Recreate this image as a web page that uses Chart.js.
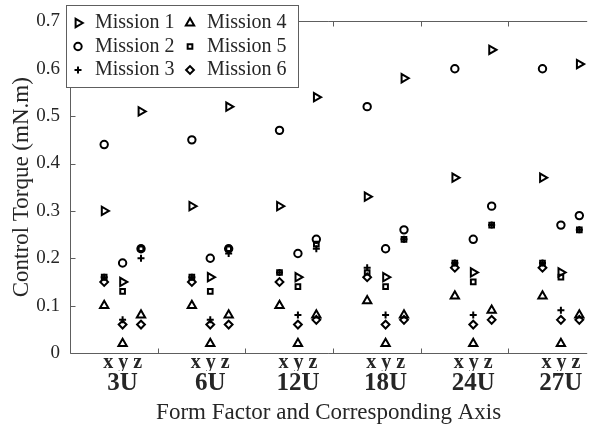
<!DOCTYPE html>
<html>
<head>
<meta charset="utf-8">
<script src="https://cdn.jsdelivr.net/npm/chart.js@4/dist/chart.umd.min.js"></script>
<style>
  html, body { margin: 0; padding: 0; background: #fff; }
  #wrap { width: 594px; height: 428px; }
</style>
</head>
<body>
<div id="wrap"><canvas id="chart" width="594" height="428"></canvas></div>
<script>
// form factors, each measured on x / y / z
const formFactors = ['3U', '6U', '12U', '18U', '24U', '27U'];
const axisNames = ['x', 'y', 'z'];
const yTicks = [0, 0.1, 0.2, 0.3, 0.4, 0.5, 0.6, 0.7];
const yTickLabels = ['0', '0.1', '0.2', '0.3', '0.4', '0.5', '0.6', '0.7'];

// control torque (mN.m), order: 3U x,y,z, 6U x,y,z, ...
const mission1 = [0.30, 0.15, 0.51, 0.31, 0.16, 0.52, 0.31, 0.16, 0.54, 0.33, 0.16, 0.58, 0.37, 0.17, 0.64, 0.37, 0.17, 0.61];
const mission2 = [0.44, 0.19, 0.22, 0.45, 0.20, 0.22, 0.47, 0.21, 0.24, 0.52, 0.22, 0.26, 0.60, 0.24, 0.31, 0.60, 0.27, 0.29];
const mission3 = [0.16, 0.07, 0.20, 0.16, 0.07, 0.21, 0.17, 0.08, 0.22, 0.18, 0.08, 0.24, 0.19, 0.08, 0.27, 0.19, 0.09, 0.26];
const mission4 = [0.10, 0.02, 0.08, 0.10, 0.02, 0.08, 0.10, 0.02, 0.08, 0.11, 0.02, 0.08, 0.12, 0.02, 0.09, 0.12, 0.02, 0.08];
const mission5 = [0.16, 0.13, 0.22, 0.16, 0.13, 0.22, 0.17, 0.14, 0.23, 0.17, 0.14, 0.24, 0.19, 0.15, 0.27, 0.19, 0.16, 0.26];
const mission6 = [0.15, 0.06, 0.06, 0.15, 0.06, 0.06, 0.15, 0.06, 0.07, 0.16, 0.06, 0.07, 0.18, 0.06, 0.07, 0.18, 0.07, 0.07];

const FONT = "'Liberation Serif', 'Times New Roman', serif";
const TEXT = '#262626';
const AXIS_COLOR = '#5e5e5e';
// where x / y / z sit inside one form-factor slot
const axisOffsets = [0.39, 0.60, 0.81];

function toPoints(values) {
  return values.map((v, j) => ({ x: Math.floor(j / 3) + axisOffsets[j % 3], y: v }));
}

function series(label, values, style, radius, rotation) {
  return {
    label,
    data: toPoints(values),
    pointStyle: style,
    pointRotation: rotation || 0,
    pointRadius: radius,
    pointHoverRadius: radius,
    pointBorderWidth: 2,
    pointBorderColor: '#000',
    pointBackgroundColor: 'rgba(0,0,0,0)',
    showLine: false
  };
}

// MATLAB-like box: left, bottom and top lines with inward ticks
const axesBox = {
  id: 'axesBox',
  beforeDatasetsDraw(chart) {
    const { ctx, chartArea: a, scales } = chart;
    const xs = scales.x, ys = scales.y;
    const L = Math.round(a.left) + 0.5, B = Math.round(a.bottom) + 0.5, T = Math.round(a.top) + 0.5;
    ctx.save();
    ctx.strokeStyle = AXIS_COLOR;
    ctx.lineWidth = 1;
    ctx.beginPath();
    ctx.moveTo(L, T); ctx.lineTo(L, B); ctx.lineTo(a.right, B);
    ctx.moveTo(L, T); ctx.lineTo(a.right, T);
    ys.ticks.forEach(t => {
      const p = Math.round(ys.getPixelForValue(t.value)) + 0.5;
      ctx.moveTo(L, p); ctx.lineTo(L + 5, p);
    });
    for (let i = 1; i < formFactors.length; i++) {
      const p = Math.round(xs.getPixelForValue(i)) + 0.5;
      ctx.moveTo(p, B); ctx.lineTo(p, B - 5);
      ctx.moveTo(p, T); ctx.lineTo(p, T + 5);
    }
    ctx.stroke();
    ctx.restore();
  }
};

// two-column legend box in the top-left corner
const boxLegend = {
  id: 'boxLegend',
  afterDraw(chart) {
    const ctx = chart.ctx;
    ctx.save();
    ctx.fillStyle = '#fff';
    ctx.fillRect(66.5, 5.5, 232, 82);
    ctx.strokeStyle = AXIS_COLOR;
    ctx.lineWidth = 1;
    ctx.strokeRect(66.5, 5.5, 232, 82);
    chart.data.datasets.forEach((ds, i) => {
      const col = Math.floor(i / 3), row = i % 3;
      const mx = 78 + col * 112, my = 23 + row * 23.5;
      ctx.strokeStyle = '#000';
      ctx.fillStyle = 'rgba(0,0,0,0)';
      ctx.lineWidth = ds.pointBorderWidth;
      Chart.helpers.drawPoint(ctx, {
        pointStyle: ds.pointStyle,
        rotation: ds.pointRotation,
        radius: ds.pointRadius,
        borderWidth: ds.pointBorderWidth
      }, mx, my);
      ctx.fillStyle = TEXT;
      ctx.font = '20px ' + FONT;
      ctx.textBaseline = 'middle';
      ctx.textAlign = 'left';
      ctx.fillText(ds.label, mx + 17, my);
    });
    ctx.restore();
  }
};

new Chart(document.getElementById('chart'), {
  type: 'scatter',
  data: {
    datasets: [
      series('Mission 1', mission1, 'triangle', 4.8, 90),
      series('Mission 2', mission2, 'circle', 3.7),
      series('Mission 3', mission3, 'cross', 3.5),
      series('Mission 4', mission4, 'triangle', 4.8),
      series('Mission 5', mission5, 'rect', 3.3),
      series('Mission 6', mission6, 'rectRot', 3.9)
    ]
  },
  options: {
    responsive: false,
    devicePixelRatio: 1,
    animation: false,
    layout: { padding: { top: 12, right: 0, bottom: 0, left: 0 } },
    plugins: { legend: { display: false }, tooltip: { enabled: false } },
    scales: {
      x: {
        type: 'linear', position: 'bottom', weight: 0, min: 0, max: 5.9,
        grid: { display: false, drawTicks: false },
        border: { display: false },
        afterBuildTicks: s => { s.ticks = formFactors.map((f, i) => ({ value: i + axisOffsets[1] })); },
        afterFit: s => { s.height = 18; },
        ticks: {
          callback: () => axisNames.join(' '),
          autoSkip: false, maxRotation: 0, padding: 0, color: TEXT,
          font: { family: FONT, size: 20, weight: 'bold', lineHeight: 1 }
        }
      },
      x2: {
        type: 'linear', axis: 'x', position: 'bottom', weight: 1, min: 0, max: 5.9,
        grid: { display: false, drawTicks: false },
        border: { display: false },
        afterBuildTicks: s => { s.ticks = formFactors.map((f, i) => ({ value: i + axisOffsets[1] })); },
        afterFit: s => { s.height = 57; },
        ticks: {
          callback: (v, i) => formFactors[i],
          autoSkip: false, maxRotation: 0, padding: 0, color: TEXT,
          font: { family: FONT, size: 25, weight: 'bold', lineHeight: 1 }
        },
        title: {
          display: true, text: 'Form Factor and Corresponding Axis', color: TEXT,
          font: { family: FONT, size: 23 }, padding: { top: 0, bottom: 1 }
        }
      },
      y: {
        min: 0, max: 0.7,
        grid: { display: false, drawTicks: false },
        border: { display: false },
        afterBuildTicks: s => { s.ticks = yTicks.map(v => ({ value: v })); },
        afterFit: s => { s.width = 70; },
        ticks: {
          callback: (v, i) => yTickLabels[i],
          padding: 10, color: TEXT,
          font: { family: FONT, size: 19 }
        },
        title: {
          display: true, text: 'Control Torque (mN.m)', color: TEXT,
          font: { family: FONT, size: 23 }, padding: { top: 8, bottom: 0 }
        }
      }
    }
  },
  plugins: [axesBox, boxLegend]
});
</script>
</body>
</html>
